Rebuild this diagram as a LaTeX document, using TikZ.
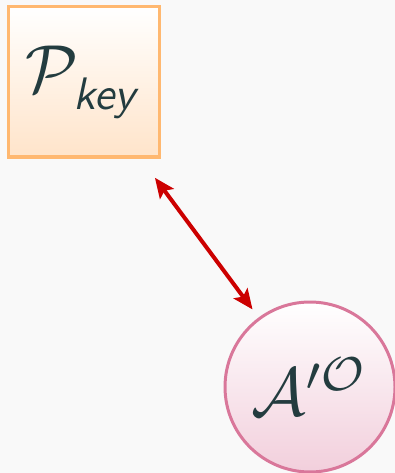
\documentclass[tikz,border=0pt]{standalone}
\usepackage{graphicx}
\usetikzlibrary{arrows.meta}
\definecolor{bgc}{HTML}{F9F9F9}
\definecolor{txt}{HTML}{233C3F}
\definecolor{boxline}{HTML}{FFB870}
\definecolor{boxbot}{HTML}{FFE4CA}
\definecolor{circline}{HTML}{D9779A}
\definecolor{circbot}{HTML}{F2CFDC}
\definecolor{arr}{HTML}{CC0000}
\newcommand{\bigtxt}[1]{\scalebox{6.8}{#1}}
\begin{document}
\begin{tikzpicture}[x=1pt,y=-1pt,
  keybox/.style={draw=boxline,line width=3pt,minimum width=151pt,minimum height=150pt,inner sep=0pt,top color=white,bottom color=boxbot,text=txt},
  adv/.style={circle,draw=circline,line width=3pt,minimum size=170pt,inner sep=0pt,top color=white,bottom color=circbot,text=txt},
  link/.style={draw=arr,line width=4pt,{Stealth[length=20pt,width=17pt,inset=4pt]}-{Stealth[length=20pt,width=17pt,inset=4pt]}}]
\fill[bgc] (0,0) rectangle (395,473);
\useasboundingbox (0,0) rectangle (395,473);
\node[keybox] (pk) at (84,82) {\bigtxt{$\mathcal{P}_{\raisebox{-1pt}{\scalebox{0.67}{\textsf{\itshape key}}}}$}};
\node[adv] (ao) at (310,387) {\bigtxt{$\mathcal{A}'^{\mathcal{O}}$}};
\draw[link,shorten <=24pt,shorten >=10pt] (pk) -- (ao);
\end{tikzpicture}
\end{document}
